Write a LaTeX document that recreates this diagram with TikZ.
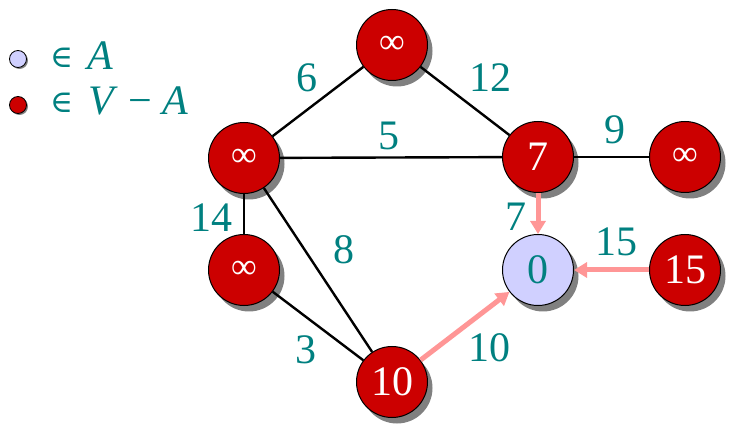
\documentclass[tikz,border=0pt]{standalone}
\usepackage{fontspec}
\setmainfont{Liberation Serif}
\newfontfamily\dejaserif{DejaVu Serif}
\usetikzlibrary{arrows.meta,shadows}
\definecolor{nodered}{RGB}{204,0,0}
\definecolor{lav}{RGB}{208,208,255}
\definecolor{teal2}{RGB}{0,128,128}
\definecolor{pinkarr}{RGB}{255,150,150}
\definecolor{shadowgray}{RGB}{128,128,128}
\tikzset{
  vtx/.style={circle, minimum size=71pt, inner sep=0pt, draw=black, line width=1pt,
    fill=nodered, text=white, font=\fontsize{42}{44}\selectfont,
    drop shadow={shadow xshift=5pt, shadow yshift=-6pt, fill=shadowgray, opacity=1}},
  avtx/.style={vtx, fill=lav, text=teal2},
  lbl/.style={text=teal2, font=\fontsize{42}{44}\selectfont, inner sep=0pt},
  edge/.style={draw=black, line width=2.4pt},
  tree/.style={draw=pinkarr, line width=5pt, -{Triangle[length=13pt,width=15pt]}},
  legdot/.style={circle, minimum size=17pt, inner sep=0pt, draw=black, line width=0.8pt,
    drop shadow={shadow xshift=1.5pt, shadow yshift=-1.5pt, fill=shadowgray, opacity=1}},
  legtxt/.style={text=teal2, font=\fontsize{42}{44}\selectfont, inner sep=0pt, anchor=base west}
}
\newcommand{\infsym}{\raisebox{-4pt}{\fontsize{36}{38}\selectfont ∞}}
\newcommand{\insym}{{\dejaserif\fontsize{31}{33}\selectfont ∈}}
\begin{document}
\begin{tikzpicture}[x=1pt,y=-1pt]
\useasboundingbox (0,0) rectangle (731,438);
% legend
\node[legdot, fill=lav] (la) at (18,59) {};
\node[legdot, fill=nodered] (lb) at (18,105) {};
\node[legtxt] (lain) at (50,68) {\insym};
\node[legtxt] (latx) at (87,70) {\textit{A}};
\node[legtxt] (lbin) at (50,113) {\insym};
\node[legtxt] (lbtx) at (88,115) {\textit{V} − \textit{A}};
% vertices
\node[vtx] (top) at (392,45) {\infsym};
\node[vtx] (left) at (244,158) {\infsym};
\node[vtx] (seven) at (538,157) {7};
\node[vtx] (right) at (685,157) {\infsym};
\node[vtx] (low) at (244,270) {\infsym};
\node[avtx] (zero) at (538,270) {0};
\node[vtx] (fifteen) at (685,270) {15};
\node[vtx] (ten) at (392,382) {10};
% edges
\draw[edge] (top) -- (left);
\draw[edge] (top) -- (seven);
\draw[edge] (left) -- (seven);
\draw[edge] (seven) -- (right);
\draw[edge] (left) -- (low);
\draw[edge] (left) -- (ten);
\draw[edge] (low) -- (ten);
\draw[tree] (seven) -- (zero);
\draw[tree] (fifteen) -- (zero);
\draw[tree] (ten) -- (zero);
% labels
\node[lbl] (l6) at (307,78) {6};
\node[lbl] (l12) at (490,78) {12};
\node[lbl] (l5) at (389,136) {5};
\node[lbl] (l9) at (615,130) {9};
\node[lbl] (l14) at (211,218) {14};
\node[lbl] (l8) at (344,250) {8};
\node[lbl] (l7) at (516,217) {7};
\node[lbl] (l15) at (616,242) {15};
\node[lbl] (l3) at (306,350) {3};
\node[lbl] (l10) at (489,348) {10};
\end{tikzpicture}
\end{document}
